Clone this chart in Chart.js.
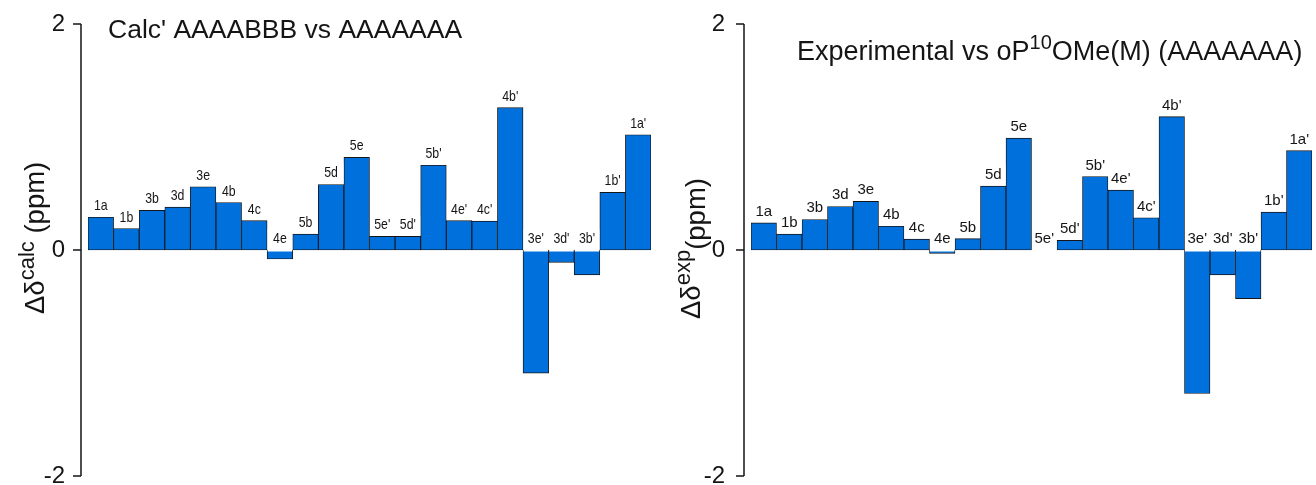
<!DOCTYPE html>
<html>
<head>
<meta charset="utf-8">
<script src="https://cdn.jsdelivr.net/npm/chart.js@4.4.0/dist/chart.umd.min.js"></script>
<style>
  body { margin: 0; background: #fff; }
  #wrap { position: relative; width: 1316px; height: 485px; }
  canvas { position: absolute; top: 0; }
</style>
</head>
<body>
<div id="wrap">
  <canvas id="calcChart" width="658" height="485" style="left:0"></canvas>
  <canvas id="expChart" width="658" height="485" style="left:658px"></canvas>
</div>
<script>
// protons, same order in both panels
const protons = ['1a', '1b', '3b', '3d', '3e', '4b', '4c', '4e', '5b', '5d', '5e',
  "5e'", "5d'", "5b'", "4e'", "4c'", "4b'", "3e'", "3d'", "3b'", "1b'", "1a'"]

// delta delta calc (ppm), AAAABBB vs AAAAAAA
const calcShift = [0.29, 0.19, 0.35, 0.38, 0.56, 0.42, 0.26, -0.08, 0.14, 0.58, 0.82,
  0.12, 0.12, 0.75, 0.26, 0.255, 1.26, -1.09, -0.11, -0.22, 0.51, 1.02]

// delta delta exp (ppm), experimental vs oP10OMe(M)
const expShift = [0.24, 0.14, 0.27, 0.385, 0.43, 0.21, 0.096, -0.03, 0.10, 0.565, 0.99,
  0.0, 0.085, 0.65, 0.53, 0.285, 1.18, -1.27, -0.22, -0.43, 0.335, 0.88]

const yTicks = [-2, 0, 2]

const barBlue = 'rgb(0, 112, 221)'
const ink = '#151515'
const sans = '"Liberation Sans", Arial, sans-serif'

// draws text made of runs, some of them raised or lowered
function richText(ctx, runs, x, y) {
  ctx.textBaseline = 'alphabetic'
  ctx.textAlign = 'left'
  runs.forEach(r => {
    ctx.font = r.size + 'px ' + sans
    ctx.fillText(r.t, x, y + (r.dy || 0))
    x += ctx.measureText(r.t).width
  })
}

// y axis line + outward ticks, a few px left of the first bar
const axisPlugin = {
  id: 'axisLine',
  afterDraw(chart, args, opts) {
    const ctx = chart.ctx
    const y = chart.scales.y
    const ax = chart.chartArea.left - opts.gap
    ctx.save()
    ctx.strokeStyle = ink
    ctx.lineWidth = 1.5
    ctx.beginPath()
    ctx.moveTo(ax, y.getPixelForValue(yTicks[yTicks.length - 1]))
    ctx.lineTo(ax, y.getPixelForValue(yTicks[0]))
    yTicks.forEach(v => {
      const py = y.getPixelForValue(v)
      ctx.moveTo(ax - 8, py)
      ctx.lineTo(ax, py)
    })
    ctx.stroke()
    ctx.restore()
  }
}

// proton name above each bar, on a white patch
const barLabels = {
  id: 'barLabels',
  afterDatasetsDraw(chart, args, opts) {
    const ctx = chart.ctx
    const meta = chart.getDatasetMeta(0)
    const vals = chart.data.datasets[0].data
    const zero = chart.scales.y.getPixelForValue(0)
    ctx.save()
    ctx.font = opts.font
    const spots = meta.data.map((bar, i) => {
      const top = vals[i] > 0 ? bar.y : zero
      return { x: bar.x, w: bar.width, top: top, base: top - opts.gap, neg: vals[i] <= 0 }
    })
    ctx.fillStyle = '#fff'
    spots.forEach(s => {
      const bottom = s.neg ? s.top + 1.5 : s.top - 1
      ctx.fillRect(s.x - s.w / 2 + 0.5, s.base - opts.size, s.w - 1, bottom - (s.base - opts.size))
    })
    ctx.fillStyle = ink
    ctx.textAlign = 'center'
    ctx.textBaseline = 'alphabetic'
    spots.forEach((s, i) => {
      ctx.save()
      ctx.translate(s.x, s.base)
      ctx.scale(opts.squeeze, 1)
      ctx.fillText(chart.data.labels[i], 0, 0)
      ctx.restore()
    })
    ctx.restore()
  }
}

// panel title + rotated y title
const titles = {
  id: 'titles',
  afterDraw(chart, args, opts) {
    const ctx = chart.ctx
    ctx.save()
    ctx.fillStyle = ink
    richText(ctx, opts.title, opts.titleX, opts.titleY)
    ctx.translate(opts.yTitleX, opts.yTitleY)
    ctx.rotate(-Math.PI / 2)
    richText(ctx, opts.yTitle, 0, 0)
    ctx.restore()
  }
}

function makeChart(id, values, cfg) {
  return new Chart(document.getElementById(id), {
    type: 'bar',
    data: {
      labels: protons,
      datasets: [{
        data: values,
        backgroundColor: barBlue,
        borderColor: ink,
        borderWidth: 0.9,
        borderSkipped: false,
        barPercentage: 1,
        categoryPercentage: 1
      }]
    },
    options: {
      responsive: false,
      animation: false,
      devicePixelRatio: 1,
      layout: { padding: { top: 24, bottom: 9, left: 0, right: cfg.right } },
      plugins: {
        legend: { display: false },
        tooltip: { enabled: false },
        axisLine: { gap: 7 },
        barLabels: cfg.labels,
        titles: cfg.titles
      },
      scales: {
        x: { display: false },
        y: {
          min: -2,
          max: 2,
          border: { display: false },
          grid: { display: false, drawTicks: false },
          ticks: {
            color: ink,
            padding: cfg.tickPad,
            font: { family: sans, size: 24 }
          },
          afterBuildTicks: s => { s.ticks = yTicks.map(v => ({ value: v })) },
          afterFit: s => {
            s.width = cfg.axisW
            s.paddingTop = 0
            s.paddingBottom = 0
          }
        }
      }
    },
    plugins: [axisPlugin, barLabels, titles]
  })
}

makeChart('calcChart', calcShift, {
  axisW: 88, right: 7, tickPad: 23,
  labels: { font: '15px ' + sans, size: 14, gap: 7, squeeze: 0.82 },
  titles: {
    title: [{ t: "Calc' AAAABBB vs AAAAAAA", size: 26.5 }],
    titleX: 108, titleY: 38,
    yTitle: [{ t: 'Δδ', size: 27.5 }, { t: 'calc', size: 22, dy: -10 }, { t: ' (ppm)', size: 27.5 }],
    yTitleX: 44, yTitleY: 314
  }
})

makeChart('expChart', expShift, {
  axisW: 93, right: 4, tickPad: 26,
  labels: { font: '15px ' + sans, size: 14, gap: 7, squeeze: 1 },
  titles: {
    title: [{ t: 'Experimental vs oP', size: 27 }, { t: '10', size: 20, dy: -11 }, { t: 'OMe(M) (AAAAAAA)', size: 27 }],
    titleX: 797 - 658, titleY: 60,
    yTitle: [{ t: 'Δδ', size: 27.5 }, { t: 'exp', size: 22, dy: -10 }, { t: '(ppm)', size: 27.5, dy: 5 }],
    yTitleX: 42, yTitleY: 319
  }
})
</script>
</body>
</html>
